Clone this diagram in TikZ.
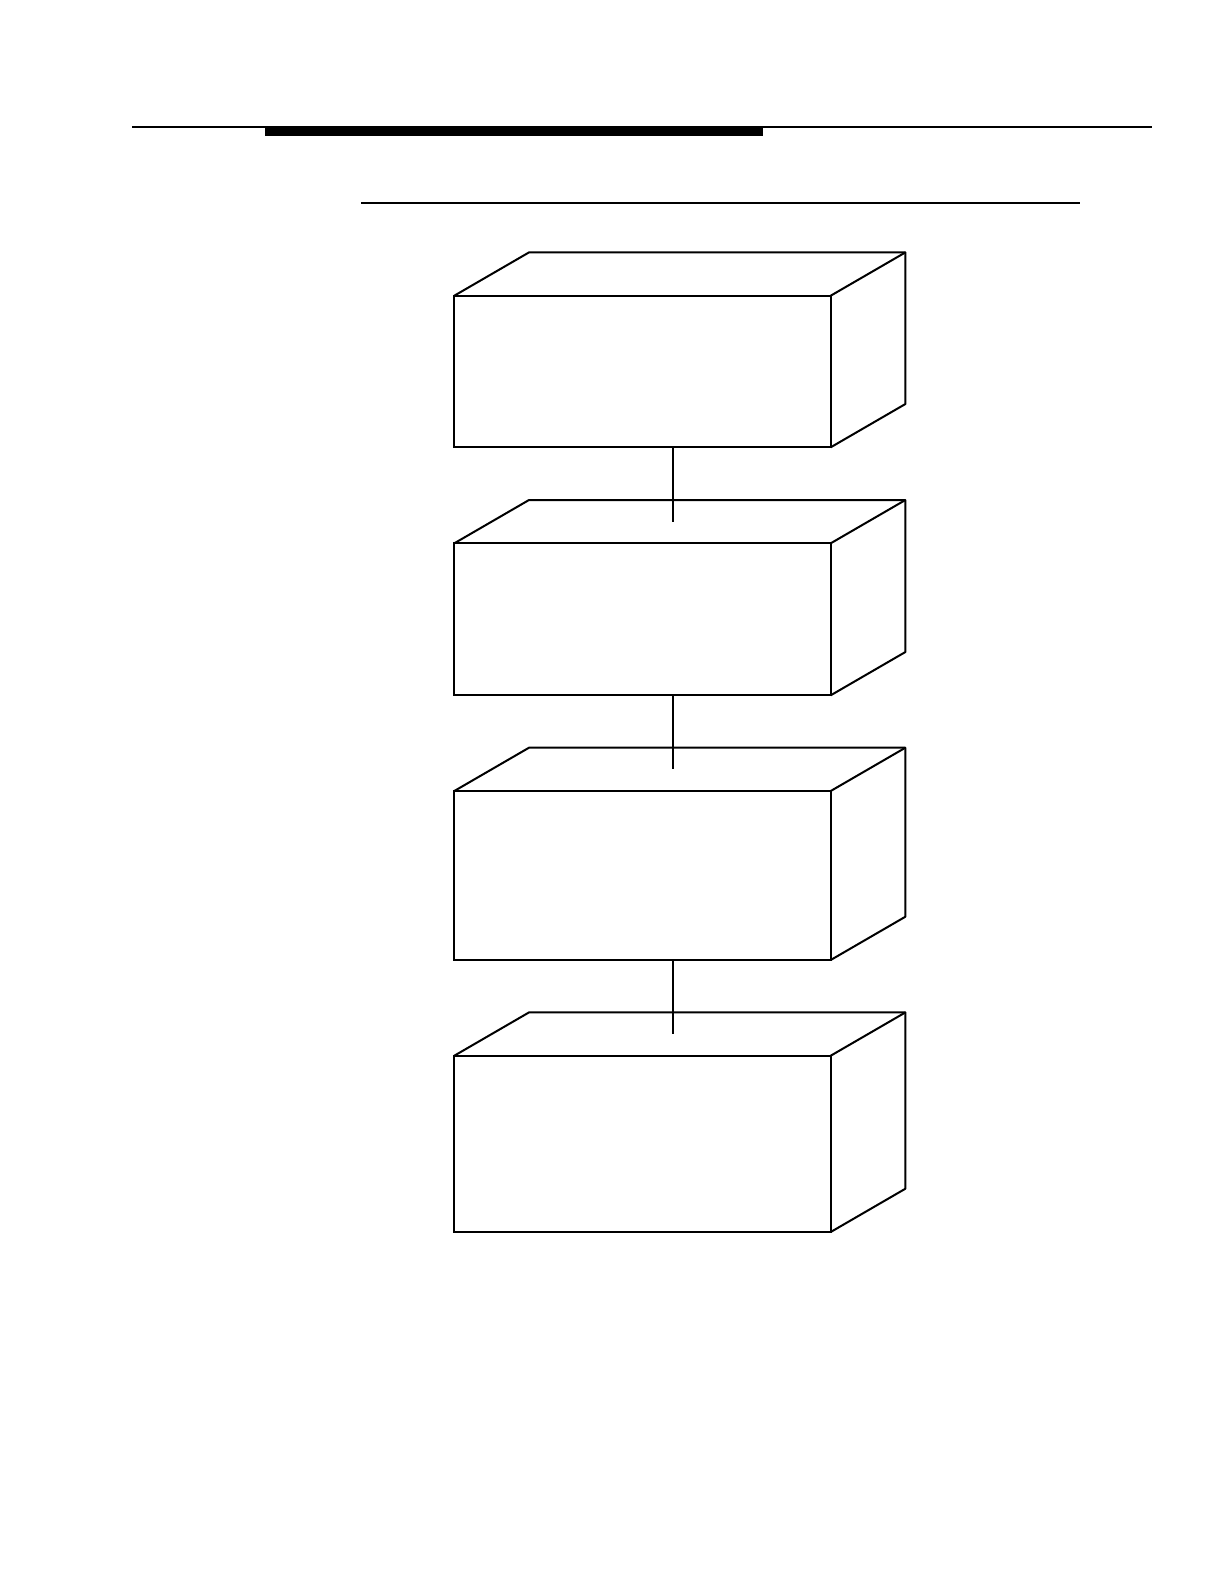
\documentclass[tikz,border=0pt]{standalone}
\usetikzlibrary{calc}
\tikzset{
  frontbox/.style={draw, minimum width=376.4pt, minimum height=#1,
    inner sep=0pt, outer sep=0pt, anchor=north west},
  link/.style={line width=1.8pt}
}
\begin{document}
\begin{tikzpicture}[x=1pt, y=-1pt, line width=2pt]
  \useasboundingbox (0,0) rectangle (1224,1584);
  \def\dx{74.7} % depth offset, horizontal
  \def\dy{43.3} % depth offset, vertical

  % Header rules
  \draw[line width=1.6pt] (132,127) -- (1152,127);
  \fill (264.5,127) rectangle (763,135.7);
  \draw (361,202.7) -- (1080,202.7);

  % The four boxes
  \foreach \n/\top/\h in {1/295.7/151.6, 2/543.3/152, 3/791/169, 4/1055.7/176.3} {
    \node[frontbox=\h pt] (B\n) at (454.3,\top) {};
    % top and side faces
    \draw[line join=round] (B\n.north west) -- ++(\dx,-\dy) -- ++(376.4,0) coordinate (K\n)
      -- ++(0,\h) -- (B\n.south east);
    \draw (B\n.north east) -- (K\n);
    \coordinate (T\n) at ($(B\n.north)+(30.8,-21.7)$);
  }

  % Links between boxes
  \foreach \a/\b in {1/2, 2/3, 3/4} {
    \draw[link] (B\a.south -| T\b) -- (T\b);
  }
\end{tikzpicture}
\end{document}
